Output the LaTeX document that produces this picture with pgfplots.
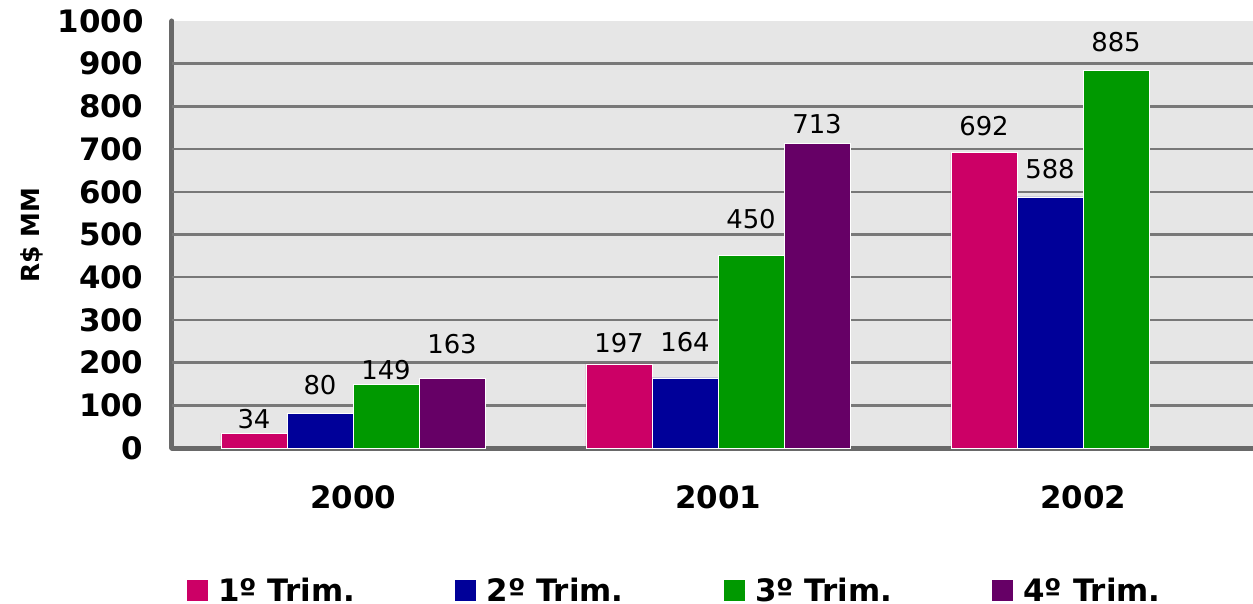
\documentclass[border=0pt]{standalone}
\usepackage{fontspec}
\setmainfont{DejaVu Sans}
\usepackage{pgfplots}
\usepackage{pgfplotstable}
\pgfplotsset{compat=1.18}
\definecolor{c1}{RGB}{204,0,102}
\definecolor{c2}{RGB}{0,0,153}
\definecolor{c3}{RGB}{0,153,0}
\definecolor{c4}{RGB}{102,0,102}
\definecolor{bg}{RGB}{230,230,230}
\definecolor{axc}{RGB}{105,105,105}
\definecolor{grc}{RGB}{120,120,120}
\pgfplotstableread{
x y off
0 34 1
1 197 7
2 692 13
}\tA
\pgfplotstableread{
x y off
0 80 15
1 164 22
2 588 14
}\tB
\pgfplotstableread{
x y off
0 149 1
1 450 23
2 885 15
}\tC
\pgfplotstableread{
x y off
0 163 21
1 713 6
}\tD
\begin{document}
\begin{tikzpicture}
\useasboundingbox (-172bp,-156bp) rectangle (1081bp,448bp);
\begin{axis}[
  at={(0,0)}, anchor=south west,
  scale only axis, width=1081bp, height=427bp,
  xmin=-0.4959, xmax=2.4658, ymin=0, ymax=1000,
  ybar=0pt, bar width=66bp,
  axis background/.style={fill=bg},
  axis x line*=bottom, axis y line*=left,
  axis line style={draw=axc, line width=5bp, line cap=round, -},
  xtick={0,1,2}, xticklabels={2000,2001,2002},
  ytick={0,100,...,1000},
  extra y ticks={100,200,...,900}, extra y tick labels={},
  extra y tick style={grid=major},
  major grid style={draw=grc, line width=2.5bp},
  major tick length=0pt,
  /pgf/number format/assume math mode=true,
  /pgf/number format/1000 sep={},
  ticklabel style={font=\bfseries\fontsize{31}{36}\selectfont},
  xticklabel style={yshift=-34bp},
  yticklabel style={xshift=-25bp},
  ylabel={R\$ MM},
  ylabel style={at={(axis description cs:-0.1295,0.499)}, anchor=center, font=\bfseries\fontsize{25}{30}\selectfont},
  nodes near coords,
  visualization depends on={\thisrow{off} \as \off},
  every node near coord/.append style={font=\fontsize{26}{30}\selectfont, black, yshift=\off bp},
  legend columns=4,
  legend style={draw=none, fill=none, at={(axis description cs:0.465,-0.333)}, anchor=center,
    font=\bfseries\fontsize{31}{36}\selectfont,
    /tikz/every even column/.append style={column sep=98bp}},
  legend image code/.code={\fill[#1, draw=none] (0bp,-11bp) rectangle (21bp,10bp); \path (21bp,0bp) -- (29bp,0bp);},
]
\addplot[fill=c1, draw=white, line width=0.75bp] table[x=x,y=y] {\tA};
\addplot[fill=c2, draw=white, line width=0.75bp] table[x=x,y=y] {\tB};
\addplot[fill=c3, draw=white, line width=0.75bp] table[x=x,y=y] {\tC};
\addplot[fill=c4, draw=white, line width=0.75bp] table[x=x,y=y] {\tD};
\legend{1º Trim., 2º Trim., 3º Trim., 4º Trim.}
\end{axis}
\end{tikzpicture}
\end{document}
